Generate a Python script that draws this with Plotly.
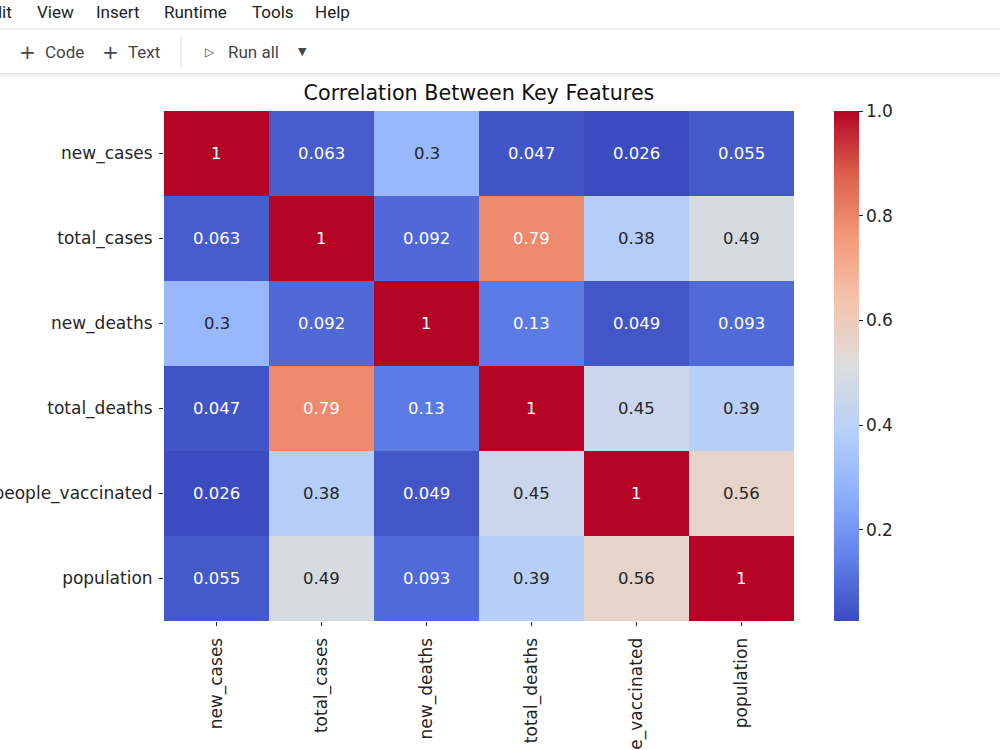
import plotly.graph_objects as go

# ---------------- data ----------------
features = ["new_cases", "total_cases", "new_deaths", "total_deaths",
            "people_vaccinated", "population"]
row_new_cases = [1, 0.063, 0.3, 0.047, 0.026, 0.055]
row_total_cases = [0.063, 1, 0.092, 0.79, 0.38, 0.49]
row_new_deaths = [0.3, 0.092, 1, 0.13, 0.049, 0.093]
row_total_deaths = [0.047, 0.79, 0.13, 1, 0.45, 0.39]
row_people_vaccinated = [0.026, 0.38, 0.049, 0.45, 1, 0.56]
row_population = [0.055, 0.49, 0.093, 0.39, 0.56, 1]
corr = [row_new_cases, row_total_cases, row_new_deaths,
        row_total_deaths, row_people_vaccinated, row_population]
cbar_ticks = [0.2, 0.4, 0.6, 0.8, 1.0]
title_text = "Correlation Between Key Features"
menu_items = ["Edit", "View", "Insert", "Runtime", "Tools", "Help"]

# ---------------- layout constants (pixels) ----------------
W, H = 1000, 750
L, R, T, B = 164, 794, 111, 621

def px(x):
    return (x - L) / (R - L)

def py(y):
    return (B - y) / (B - T)

# matplotlib 'coolwarm'
coolwarm_hex = ["#3b4cc0", "#6282ea", "#8db0fe", "#b8d0f9", "#dddddd",
                "#f4c4ad", "#f49a7b", "#dd604c", "#b40426"]
colorscale = [[i / (len(coolwarm_hex) - 1), c] for i, c in enumerate(coolwarm_hex)]

def hex2rgb(h):
    h = h.lstrip("#")
    return [int(h[i:i + 2], 16) / 255 for i in (0, 2, 4)]

def cmap(t):
    t = min(max(t, 0), 1)
    n = len(coolwarm_hex) - 1
    i = min(int(t * n), n - 1)
    f = t * n - i
    a, b = hex2rgb(coolwarm_hex[i]), hex2rgb(coolwarm_hex[i + 1])
    return [a[k] + (b[k] - a[k]) * f for k in range(3)]

def luminance(rgb):
    lin = [c / 12.92 if c <= 0.03928 else ((c + 0.055) / 1.055) ** 2.4 for c in rgb]
    return 0.2126 * lin[0] + 0.7152 * lin[1] + 0.0722 * lin[2]

flat = [v for row in corr for v in row]
zmin, zmax = min(flat), max(flat)

FONT = "DejaVu Sans"
TXT = "#262626"

fig = go.Figure()
fig.add_trace(go.Heatmap(
    z=corr, x=features, y=features,
    colorscale=colorscale, zmin=zmin, zmax=zmax,
    xgap=0, ygap=0, hoverongaps=False,
    colorbar=dict(
        x=px(834), xanchor="left", xref="paper",
        y=0.5, yanchor="middle", yref="paper",
        xpad=0, ypad=0,
        thickness=25, thicknessmode="pixels",
        len=B - T, lenmode="pixels",
        outlinewidth=0,
        tickvals=cbar_ticks, tickformat=".1f",
        ticks="outside", ticklen=4, tickwidth=1, tickcolor=TXT,
        tickfont=dict(family=FONT, size=17, color=TXT),
    ),
))

annotations = []
for i, rname in enumerate(features):
    for j, cname in enumerate(features):
        v = corr[i][j]
        lum = luminance(cmap((v - zmin) / (zmax - zmin)))
        col = TXT if lum > 0.408 else "#ffffff"
        annotations.append(dict(
            x=cname, y=rname, xref="x", yref="y",
            text=f"{v:.2g}", showarrow=False,
            font=dict(family=FONT, size=16.5, color=col),
        ))

# ---------- Colab header (menu + toolbar) ----------
MENU_FONT = "Roboto"
menu_x = [14, 35, 94, 162, 250, 313]
for k, (name, xx) in enumerate(zip(menu_items, menu_x)):
    annotations.append(dict(
        x=px(xx), y=py(12), xref="paper", yref="paper",
        xanchor="right" if k == 0 else "left", yanchor="middle",
        text=name, showarrow=False,
        font=dict(family=MENU_FONT, size=17, color="#202124"),
    ))
toolbar_icons = [("+", 27, 20), ("+", 110, 20), ("▷", 210, 12), ("▼", 302, 11)]
for sym, xx, sz in toolbar_icons:
    annotations.append(dict(
        x=px(xx), y=py(52), xref="paper", yref="paper",
        xanchor="center", yanchor="middle",
        text=sym, showarrow=False,
        font=dict(family="DejaVu Sans", size=sz, color="#444746"),
    ))
toolbar_labels = [("Code", 43), ("Text", 126), ("Run all", 226)]
for name, xx in toolbar_labels:
    annotations.append(dict(
        x=px(xx), y=py(52), xref="paper", yref="paper",
        xanchor="left", yanchor="middle",
        text=name, showarrow=False,
        font=dict(family=MENU_FONT, size=17, color="#444746"),
    ))

shapes = [
    dict(type="line", xref="paper", yref="paper",
         x0=px(0), x1=px(W), y0=py(29), y1=py(29),
         line=dict(color="#dadce0", width=1)),
    dict(type="line", xref="paper", yref="paper",
         x0=px(181), x1=px(181), y0=py(37), y1=py(67),
         line=dict(color="#dadce0", width=1)),
]
shade = ["#e6e6e6", "#eeeeee", "#f4f4f4", "#f9f9f9"]
for k, c in enumerate(shade):
    shapes.append(dict(type="line", xref="paper", yref="paper",
                       x0=px(0), x1=px(W), y0=py(73.5 + k), y1=py(73.5 + k),
                       line=dict(color=c, width=1)))

fig.update_layout(
    width=W, height=H,
    margin=dict(l=L, r=W - R, t=T, b=H - B, pad=0),
    paper_bgcolor="white", plot_bgcolor="white",
    title=dict(text=title_text, x=(L + R) / 2 / W, xref="container",
               y=1 - 93 / H, yref="container",
               xanchor="center", yanchor="middle",
               font=dict(family=FONT, size=20.7, color="#111111")),
    xaxis=dict(tickangle=-90, ticks="outside", ticklen=4, tickwidth=1,
               tickcolor=TXT, showgrid=False, zeroline=False,
               ticklabelstandoff=5,
               tickfont=dict(family=FONT, size=17, color=TXT),
               automargin=False, showline=False),
    yaxis=dict(autorange="reversed", ticks="outside", ticklen=4, tickwidth=1,
               tickcolor=TXT, showgrid=False, zeroline=False,
               ticklabelstandoff=3,
               tickfont=dict(family=FONT, size=17, color=TXT),
               automargin=False, showline=False),
    annotations=annotations,
    shapes=shapes,
    showlegend=False,
)

fig.write_html("out.html")
